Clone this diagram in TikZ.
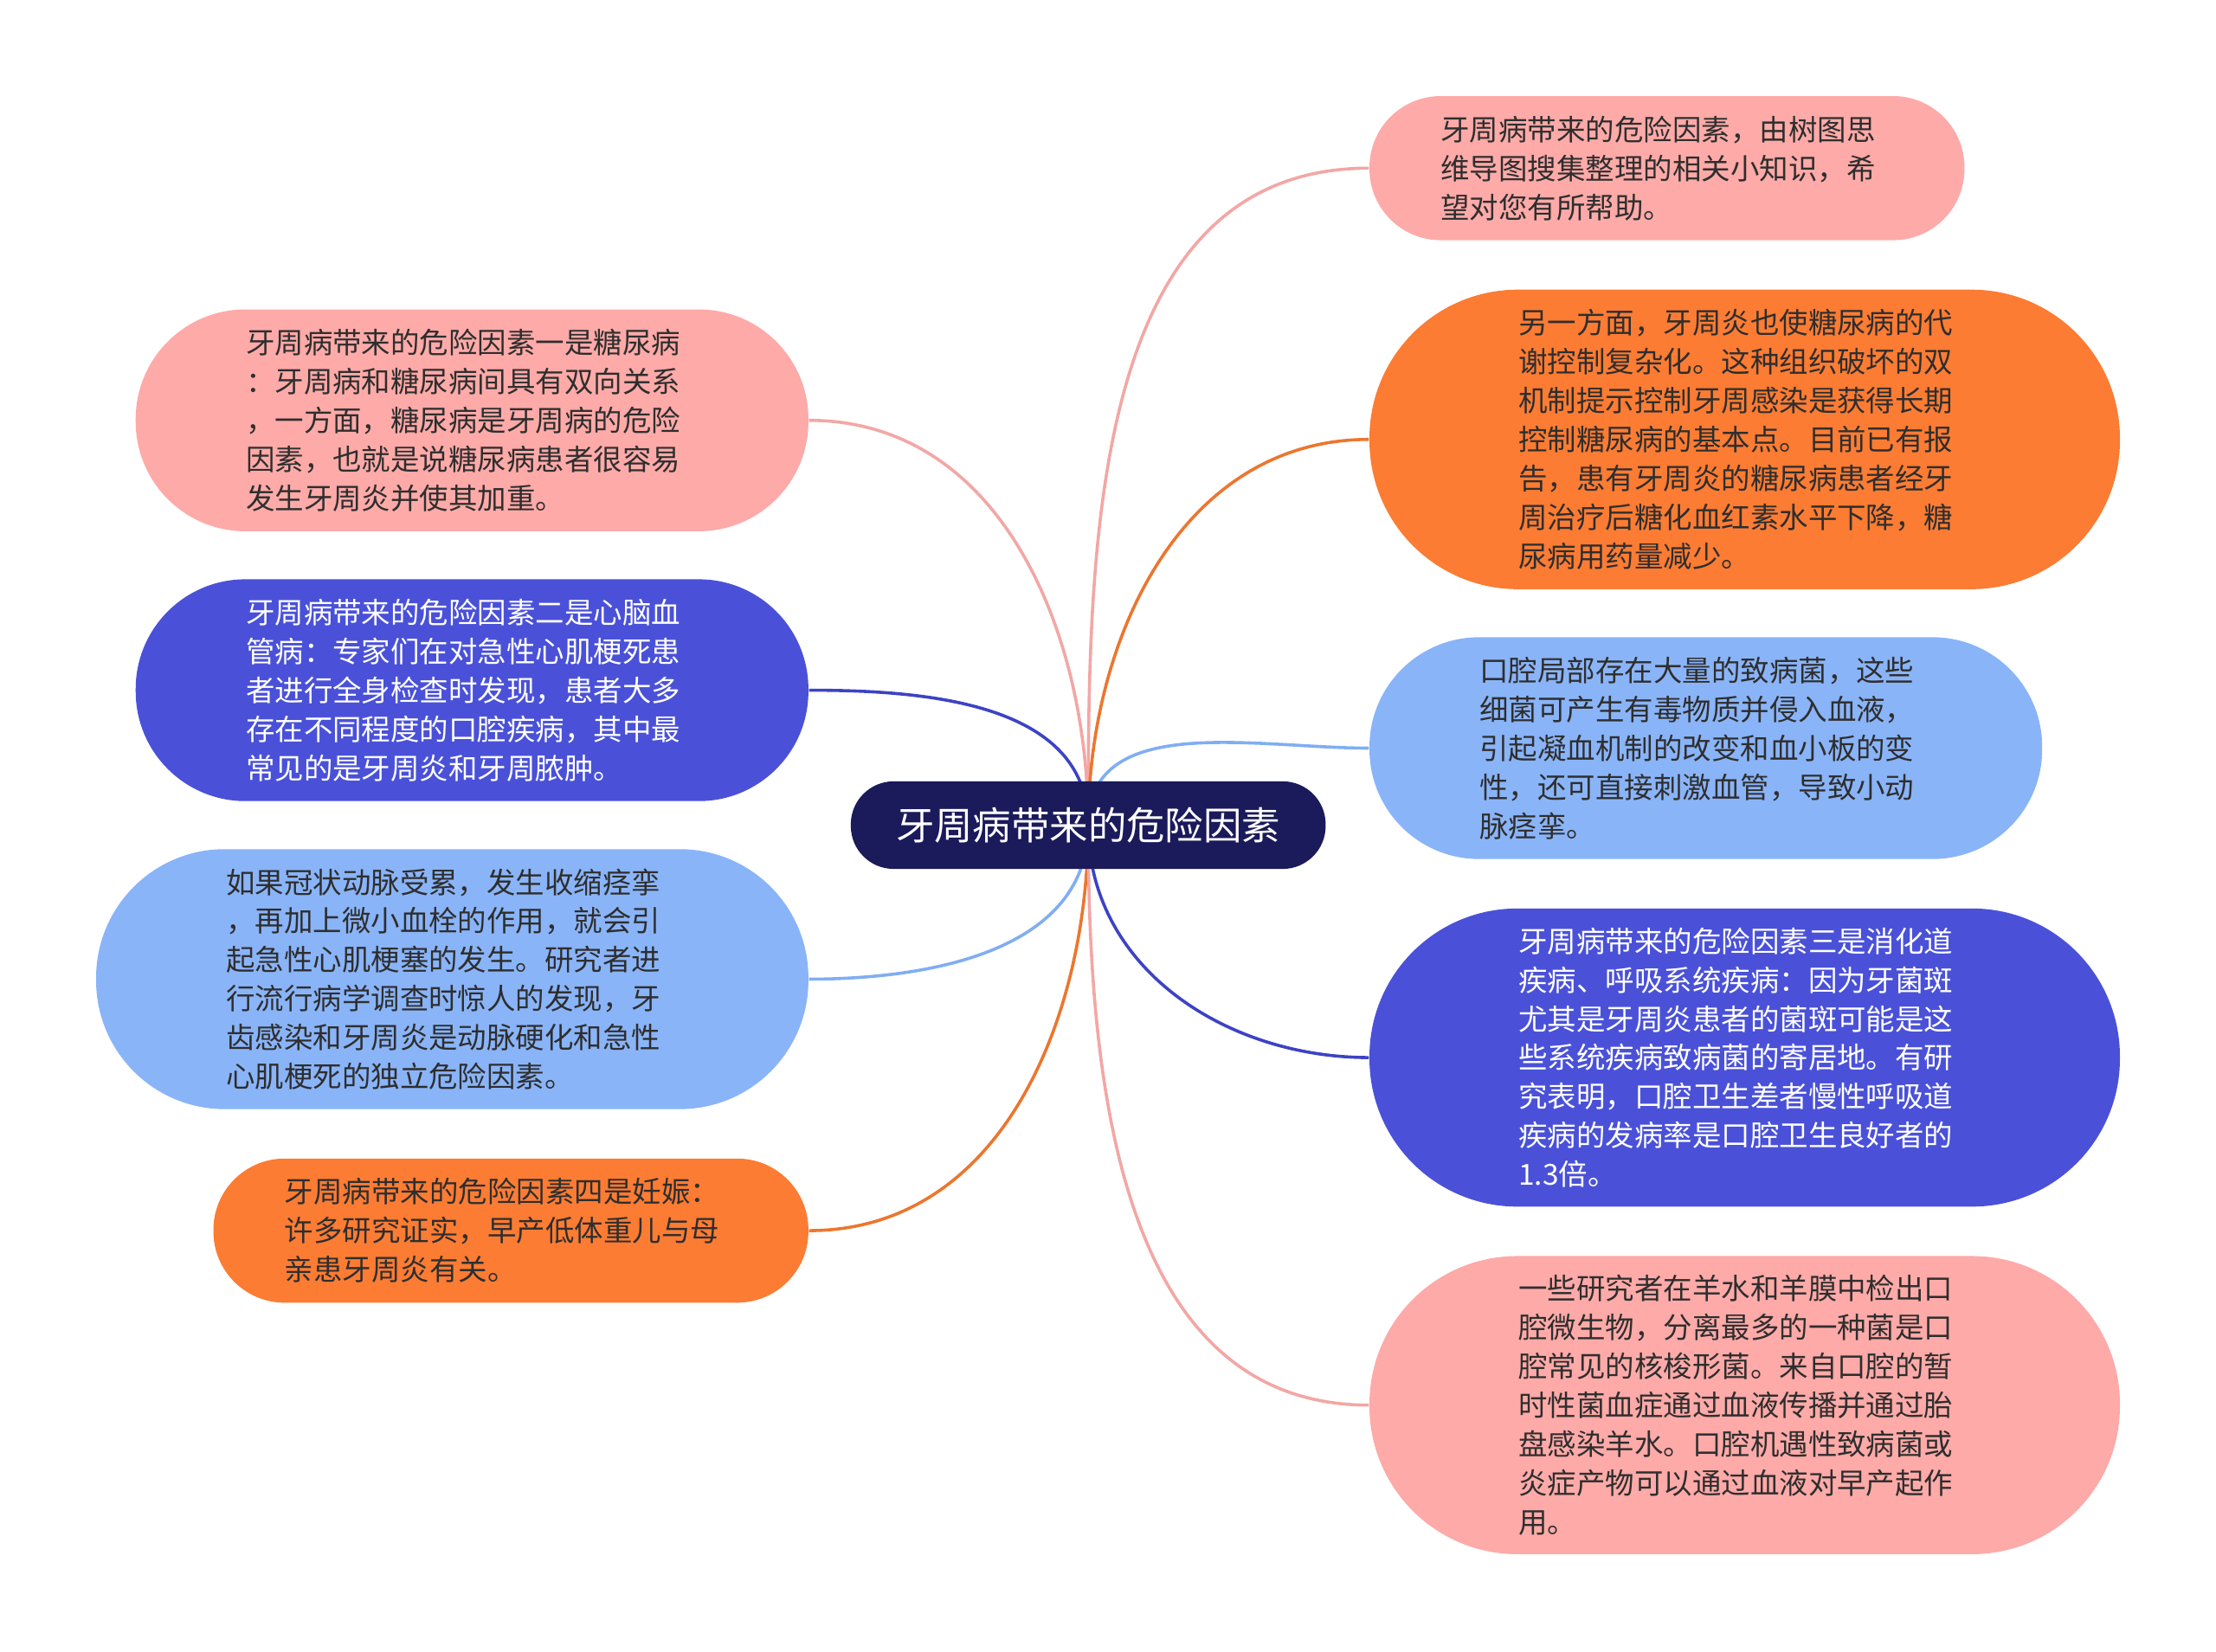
\documentclass[tikz,border=0pt]{standalone}
\usepackage{fontspec}
\newfontfamily\cjkfont{Noto Sans CJK SC}
\usetikzlibrary{backgrounds}

\definecolor{pinkfill}{HTML}{FDAAA8}
\definecolor{pinkline}{HTML}{F2A7A5}
\definecolor{orangefill}{HTML}{FC7C33}
\definecolor{orangeline}{HTML}{EC762F}
\definecolor{navyfill}{HTML}{4A51D8}
\definecolor{navyline}{HTML}{3D43C4}
\definecolor{skyfill}{HTML}{8AB4F8}
\definecolor{skyline}{HTML}{80AEF2}
\definecolor{rootfill}{HTML}{1B1A5B}
\definecolor{inkdark}{HTML}{2E2E2E}

\begin{document}
\begin{tikzpicture}[x=0.5pt,y=-0.5pt,
        bubble/.style={align=left, inner sep=0pt, text width=160pt,
            font=\cjkfont\fontsize{10.25pt}{13.75pt}\selectfont},
        pinkb/.style={bubble, fill=pinkfill, text=inkdark},
        orangeb/.style={bubble, fill=orangefill, text=inkdark},
        navyb/.style={bubble, fill=navyfill, text=white},
        skyb/.style={bubble, fill=skyfill, text=inkdark},
        pill/.style n args={3}{minimum width=#1, minimum height=#2, rounded corners=#3},
        link/.style={line width=1.1pt},
    ]
    \useasboundingbox (0,0) rectangle (1568,1169);

    % centre
    \node[fill=rootfill, text=white, inner sep=0pt, pill={168pt}{31pt}{15.2pt},
        font=\cjkfont\fontsize{13.6pt}{16pt}\selectfont] (root) at (770,584) {牙周病带来的危险因素};

    % left branches
    \node[pinkb, pill={238pt}{78.5pt}{38.8pt}] (diab) at (334,297.5)
        {牙周病带来的危险因素一是糖尿病\\：牙周病和糖尿病间具有双向关系\\，一方面，糖尿病是牙周病的危险\\因素，也就是说糖尿病患者很容易\\发生牙周炎并使其加重。};
    \node[navyb, pill={238pt}{78.5pt}{38.8pt}] (heart) at (334,488.5)
        {牙周病带来的危险因素二是心脑血\\管病：专家们在对急性心肌梗死患\\者进行全身检查时发现，患者大多\\存在不同程度的口腔疾病，其中最\\常见的是牙周炎和牙周脓肿。};
    \node[skyb, pill={252pt}{92pt}{45.5pt}] (coron) at (320,693)
        {如果冠状动脉受累，发生收缩痉挛\\，再加上微小血栓的作用，就会引\\起急性心肌梗塞的发生。研究者进\\行流行病学调查时惊人的发现，牙\\齿感染和牙周炎是动脉硬化和急性\\心肌梗死的独立危险因素。};
    \node[orangeb, pill={210.5pt}{51pt}{25.2pt}] (preg) at (361.5,871)
        {牙周病带来的危险因素四是妊娠：\\许多研究证实，早产低体重儿与母\\亲患牙周炎有关。};

    % right branches
    \node[pinkb, pill={210.5pt}{51pt}{25.2pt}] (intro) at (1179.5,119)
        {牙周病带来的危险因素，由树图思\\维导图搜集整理的相关小知识，希\\望对您有所帮助。};
    \node[orangeb, pill={265.5pt}{106pt}{52.5pt}] (other) at (1234.5,311)
        {另一方面，牙周炎也使糖尿病的代\\谢控制复杂化。这种组织破坏的双\\机制提示控制牙周感染是获得长期\\控制糖尿病的基本点。目前已有报\\告，患有牙周炎的糖尿病患者经牙\\周治疗后糖化血红素水平下降，糖\\尿病用药量减少。};
    \node[skyb, pill={238pt}{78.5pt}{38.8pt}] (germ) at (1207,529.5)
        {口腔局部存在大量的致病菌，这些\\细菌可产生有毒物质并侵入血液，\\引起凝血机制的改变和血小板的变\\性，还可直接刺激血管，导致小动\\脉痉挛。};
    \node[navyb, pill={265.5pt}{105.5pt}{52.3pt}] (lung) at (1234.5,748.5)
        {牙周病带来的危险因素三是消化道\\疾病、呼吸系统疾病：因为牙菌斑\\尤其是牙周炎患者的菌斑可能是这\\些系统疾病致病菌的寄居地。有研\\究表明，口腔卫生差者慢性呼吸道\\疾病的发病率是口腔卫生良好者的\\1.3倍。};
    \node[pinkb, pill={265.5pt}{105.5pt}{52.3pt}] (birth) at (1234.5,994.5)
        {一些研究者在羊水和羊膜中检出口\\腔微生物，分离最多的一种菌是口\\腔常见的核梭形菌。来自口腔的暂\\时性菌血症通过血液传播并通过胎\\盘感染羊水。口腔机遇性致病菌或\\炎症产物可以通过血液对早产起作\\用。};

    % connectors
    \begin{scope}[on background layer]
        \draw[link, pinkline] (root.center) to[out=90,in=0] (diab.east);
        \draw[link, navyline] (root.center) to[out=90,in=0] (heart.east);
        \draw[link, skyline] (root.center) to[out=-90,in=0] (coron.east);
        \draw[link, orangeline] (root.center) to[out=-90,in=0] (preg.east);
        \draw[link, pinkline] (root.center) to[out=90,in=180] (intro.west);
        \draw[link, orangeline] (root.center) to[out=90,in=180] (other.west);
        \draw[link, skyline] (root.center) to[out=90,in=180] (germ.west);
        \draw[link, navyline] (root.center) to[out=-90,in=180] (lung.west);
        \draw[link, pinkline] (root.center) to[out=-90,in=180] (birth.west);
    \end{scope}
\end{tikzpicture}
\end{document}
